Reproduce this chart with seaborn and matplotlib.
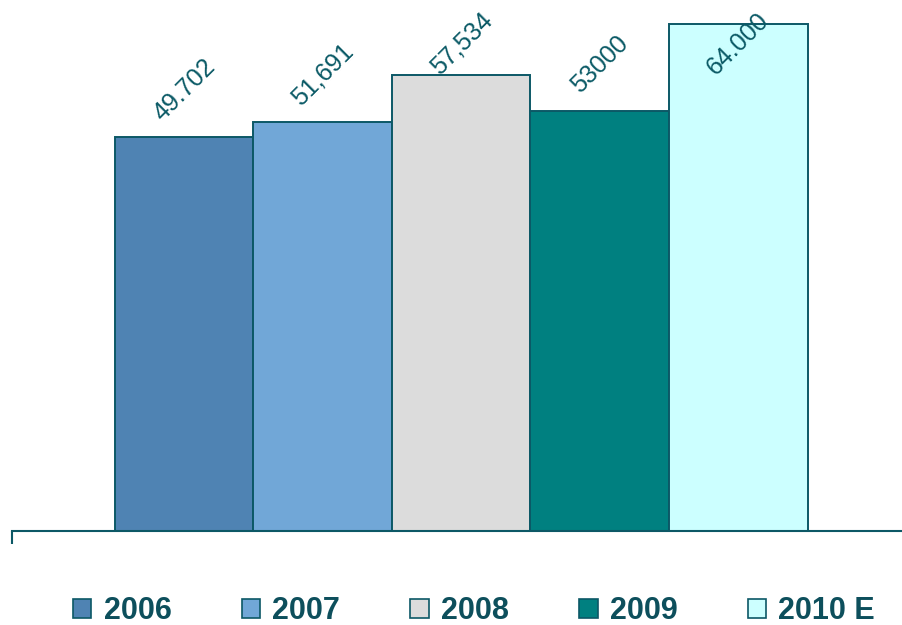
import matplotlib
matplotlib.use('Agg')
import matplotlib.pyplot as plt
import seaborn as sns
import pandas as pd
from matplotlib.patches import Patch

# datos
years = ['2006', '2007', '2008', '2009', '2010 E']
values = [49702, 51691, 57534, 53000, 64000]
value_labels = ['49.702', '51,691', '57,534', '53000', '64.000']
colors = ['#4F83B3', '#71A7D7', '#DCDCDC', '#008080', '#CCFFFF']

edge = '#0C5866'
text_color = '#0B5A66'
legend_color = '#0D4F5C'

sns.set_style('white')
plt.rcParams['font.family'] = ['Liberation Sans', 'DejaVu Sans']

fig = plt.figure(figsize=(9.03, 6.25), dpi=100)
ax = fig.add_axes([12 / 903, 94 / 625, 1 - 12 / 903, 526 / 625])

df = pd.DataFrame({'year': years, 'value': values})
sns.barplot(data=df, x='year', y='value', hue='year', palette=colors,
            saturation=1, width=1.0, edgecolor=edge, linewidth=1.4,
            legend=False, ax=ax)

ymax = 66400
ax.set_ylim(0, ymax)
left = -1.241
ax.set_xticks([left])
ax.set_xlim(left, 5.188)
ax.set_yticks([])
ax.set_xlabel('')
ax.set_ylabel('')
ax.tick_params(axis='x', length=9, width=1.5, color=edge, labelbottom=False,
               direction='out', bottom=True)
for s in ['left', 'top', 'right']:
    ax.spines[s].set_visible(False)
ax.spines['bottom'].set_color(edge)
ax.spines['bottom'].set_linewidth(1.5)

# etiquetas de valor (se empujan hacia abajo si no caben)
offset = 5934
cap = 61490
for i, (v, lab) in enumerate(zip(values, value_labels)):
    y = min(v + offset, cap)
    ax.text(i, y, lab, rotation=45, ha='center', va='center',
            fontsize=18, color=text_color)

handles = [Patch(facecolor=c, edgecolor=edge, linewidth=1.2) for c in colors]
fig.legend(handles, years, loc='center', bbox_to_anchor=(0.525, 14 / 625),
           ncol=5, frameon=False, prop={'size': 22, 'weight': 'bold'},
           labelcolor=legend_color, handlelength=0.6, handleheight=0.6,
           handletextpad=0.4, columnspacing=2.3, borderpad=0)

fig.savefig('out.png', dpi=100)
